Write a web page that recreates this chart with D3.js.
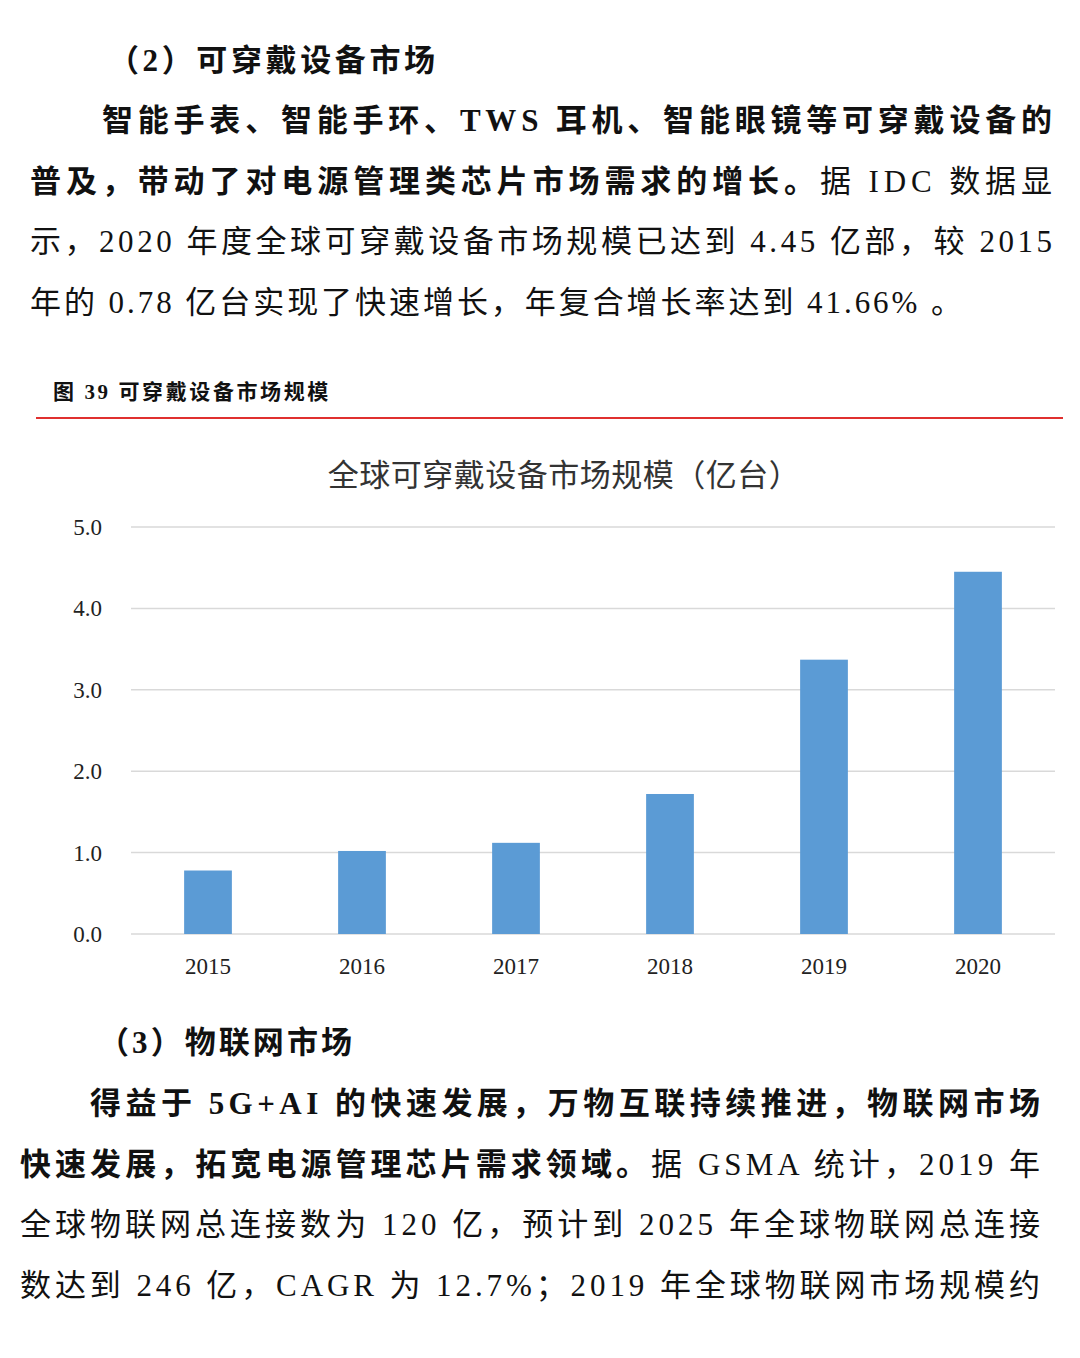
<!DOCTYPE html>
<html><head><meta charset="utf-8">
<script src="https://cdn.jsdelivr.net/npm/d3@7"></script>
<style>body{margin:0;background:#fff}</style></head>
<body><svg id="c" width="1080" height="1358"></svg>
<script>
const years = ["2015","2016","2017","2018","2019","2020"];
const values = [0.78, 1.02, 1.12, 1.72, 3.37, 4.45];
const yTicks = [0,1,2,3,4,5];
const chartTitle = "全球可穿戴设备市场规模（亿台）";
const caption = "图 39 可穿戴设备市场规模";
const para1 = [
  [[["（2）可穿戴设备市场",1]],108,435,71],
  [[["智能手表、智能手环、TWS 耳机、智能眼镜等可穿戴设备的",1]],102,1052,131],
  [[["普及，带动了对电源管理类芯片市场需求的增长。",1],["据 IDC 数据显",0]],30,1052,192],
  [[["示，2020 年度全球可穿戴设备市场规模已达到 4.45 亿部，较 2015",0]],30,1052,252],
  [[["年的 0.78 亿台实现了快速增长，年复合增长率达到 41.66% 。",0]],30,962,313]
];
const para2 = [
  [[["（3）物联网市场",1]],98,352,1053],
  [[["得益于 5G+AI 的快速发展，万物互联持续推进，物联网市场",1]],90,1040,1114],
  [[["快速发展，拓宽电源管理芯片需求领域。",1],["据 GSMA 统计，2019 年",0]],20,1040,1175],
  [[["全球物联网总连接数为 120 亿，预计到 2025 年全球物联网总连接",0]],20,1040,1235],
  [[["数达到 246 亿，CAGR 为 12.7%；2019 年全球物联网市场规模约",0]],20,1040,1296]
];
const svg = d3.select("#c");
const FONT = "'Liberation Serif','Noto Sans CJK SC',serif";
function drawLines(lines){
  lines.forEach(([segs,x0,x1,y])=>{
    const t = svg.append("text").attr("x",x0).attr("y",y)
      .style("font-family",FONT).style("font-size","31px").attr("fill","#111");
    segs.forEach(([s,b])=>t.append("tspan").text(s).attr("font-weight",b?"bold":"normal"));
    if(x1){
      const w = t.node().getComputedTextLength();
      const n = segs.map(s=>s[0]).join("").length;
      t.style("letter-spacing",((x1-x0-w)/(n-1))+"px");
    }
  });
}
drawLines(para1); drawLines(para2);
svg.append("text").attr("x",53).attr("y",399).text(caption)
  .style("font-family",FONT).style("font-size","21px").style("letter-spacing","2.6px")
  .attr("font-weight","bold").attr("fill","#111");
svg.append("line").attr("x1",36).attr("x2",1063).attr("y1",418).attr("y2",418).attr("stroke","#e0302f").attr("stroke-width",2);
svg.append("text").attr("x",564).attr("y",486).attr("text-anchor","middle").text(chartTitle)
  .style("font-family","'Noto Sans CJK SC',sans-serif").style("font-size","31px").style("letter-spacing","0.5px").attr("fill","#333");
const x = d3.scaleBand().domain(years).range([131,1055]).paddingInner(0.69).paddingOuter(0.345);
const y = d3.scaleLinear().domain([0,5]).range([934,527]);
svg.append("g").selectAll("line").data(yTicks).join("line")
  .attr("x1",131).attr("x2",1055).attr("y1",d=>y(d)).attr("y2",d=>y(d))
  .attr("stroke","#d9d9d9").attr("stroke-width",1.5);
svg.append("g").selectAll("text").data(yTicks).join("text")
  .attr("x",102).attr("y",d=>y(d)+8).attr("text-anchor","end").text(d=>d.toFixed(1))
  .style("font-family","'Liberation Serif',serif").style("font-size","23px").attr("fill","#222");
svg.append("g").selectAll("rect").data(values).join("rect")
  .attr("x",(d,i)=>x(years[i])).attr("width",x.bandwidth())
  .attr("y",d=>y(d)).attr("height",d=>y(0)-y(d)).attr("fill","#5b9bd5");
svg.append("g").selectAll("text").data(years).join("text")
  .attr("x",d=>x(d)+x.bandwidth()/2).attr("y",974).attr("text-anchor","middle").text(d=>d)
  .style("font-family","'Liberation Serif',serif").style("font-size","23px").attr("fill","#222");
</script></body></html>
